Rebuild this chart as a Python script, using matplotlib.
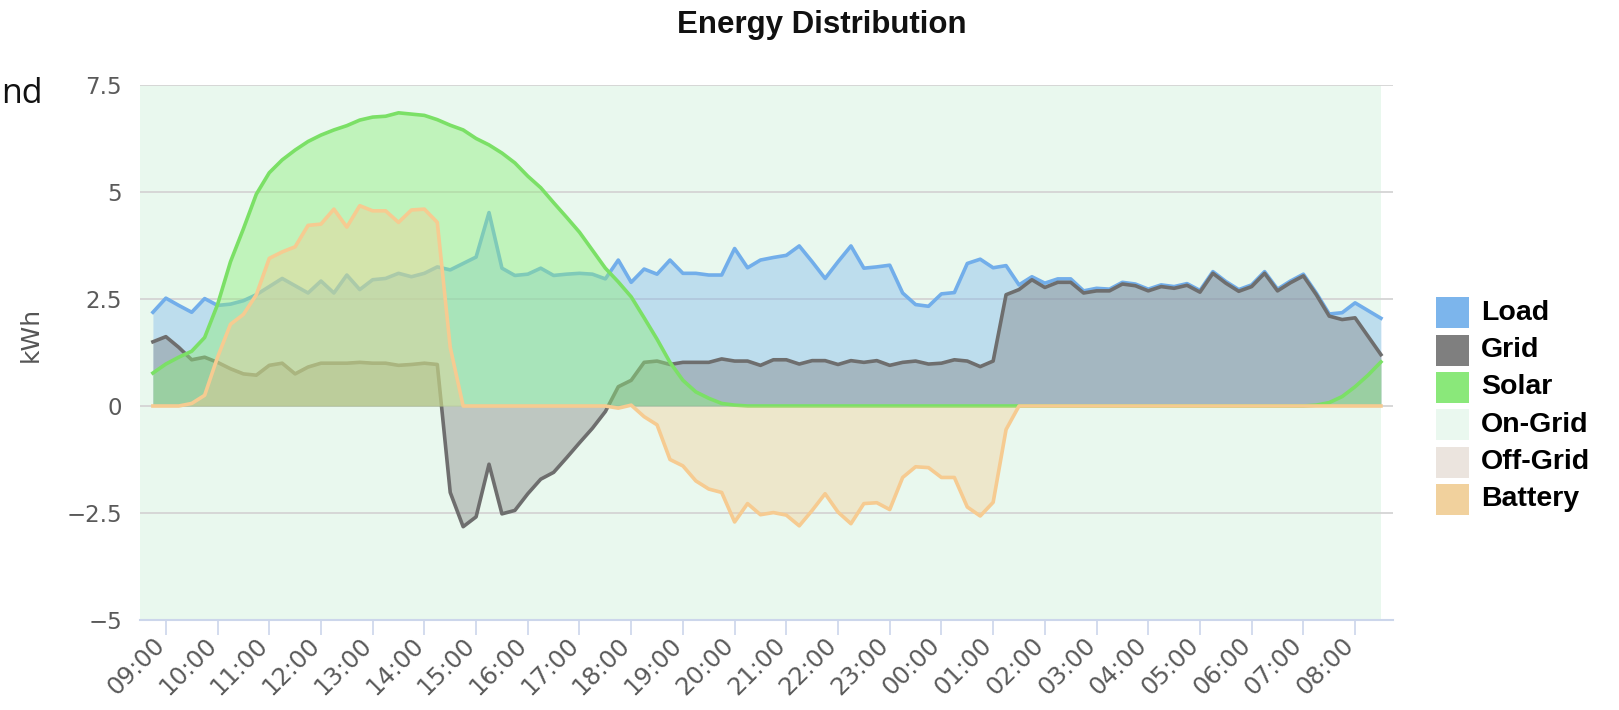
import matplotlib

matplotlib.use("Agg")

import matplotlib.dates as mdates
import matplotlib.pyplot as plt
import pandas as pd
from matplotlib.patches import Rectangle

# 15-minute readings, kWh, starting 08:45
load = [
    2.19, 2.52, 2.35, 2.19, 2.51, 2.35, 2.38, 2.46, 2.60, 2.79, 2.98, 2.81,
    2.64, 2.92, 2.64, 3.06, 2.72, 2.95, 2.98, 3.10, 3.02, 3.10, 3.25, 3.18,
    3.33, 3.48, 4.52, 3.22, 3.05, 3.08, 3.22, 3.05, 3.08, 3.10, 3.08, 2.97,
    3.41, 2.89, 3.20, 3.08, 3.41, 3.10, 3.10, 3.06, 3.06, 3.68, 3.23, 3.41,
    3.47, 3.52, 3.74, 3.37, 2.98, 3.37, 3.74, 3.22, 3.25, 3.29, 2.64, 2.37,
    2.33, 2.62, 2.65, 3.33, 3.43, 3.23, 3.28, 2.83, 3.02, 2.87, 2.97, 2.97,
    2.69, 2.75, 2.73, 2.89, 2.85, 2.73, 2.83, 2.79, 2.86, 2.70, 3.14, 2.91,
    2.72, 2.83, 3.14, 2.73, 2.92, 3.08, 2.64, 2.15, 2.18, 2.41, 2.23, 2.05,
]
grid = [
    1.50, 1.62, 1.37, 1.08, 1.14, 1.02, 0.87, 0.75, 0.72, 0.95, 1.00, 0.75,
    0.91, 1.00, 1.00, 1.00, 1.02, 1.00, 1.00, 0.95, 0.97, 1.00, 0.97, -2.02,
    -2.82, -2.59, -1.36, -2.52, -2.44, -2.05, -1.71, -1.55, -1.21, -0.86, -0.52, -0.13,
    0.45, 0.60, 1.02, 1.05, 0.97, 1.02, 1.02, 1.02, 1.10, 1.05, 1.05, 0.95,
    1.08, 1.08, 0.98, 1.06, 1.06, 0.97, 1.06, 1.02, 1.06, 0.95, 1.02, 1.05,
    0.98, 1.00, 1.08, 1.05, 0.92, 1.05, 2.60, 2.72, 2.95, 2.77, 2.89, 2.89,
    2.64, 2.69, 2.69, 2.85, 2.81, 2.69, 2.79, 2.75, 2.82, 2.66, 3.10, 2.87,
    2.68, 2.79, 3.10, 2.69, 2.88, 3.04, 2.60, 2.10, 2.02, 2.06, 1.63, 1.20,
]
solar = [
    0.77, 0.98, 1.14, 1.28, 1.60, 2.37, 3.37, 4.14, 4.95, 5.45, 5.75, 5.98,
    6.18, 6.33, 6.45, 6.55, 6.68, 6.75, 6.77, 6.85, 6.82, 6.79, 6.69, 6.56,
    6.45, 6.25, 6.10, 5.91, 5.68, 5.37, 5.10, 4.75, 4.41, 4.06, 3.64, 3.22,
    2.90, 2.55, 2.06, 1.56, 1.02, 0.60, 0.33, 0.18, 0.06, 0.02, 0.00, 0.00,
    0.00, 0.00, 0.00, 0.00, 0.00, 0.00, 0.00, 0.00, 0.00, 0.00, 0.00, 0.00,
    0.00, 0.00, 0.00, 0.00, 0.00, 0.00, 0.00, 0.00, 0.00, 0.00, 0.00, 0.00,
    0.00, 0.00, 0.00, 0.00, 0.00, 0.00, 0.00, 0.00, 0.00, 0.00, 0.00, 0.00,
    0.00, 0.00, 0.00, 0.00, 0.00, 0.00, 0.02, 0.08, 0.22, 0.45, 0.72, 1.03,
]
battery = [
    0.00, 0.00, 0.00, 0.06, 0.25, 1.14, 1.91, 2.14, 2.60, 3.45, 3.60, 3.72,
    4.22, 4.25, 4.60, 4.18, 4.68, 4.56, 4.56, 4.29, 4.58, 4.60, 4.29, 1.37,
    0.00, 0.00, 0.00, 0.00, 0.00, 0.00, 0.00, 0.00, 0.00, 0.00, 0.00, 0.00,
    -0.05, 0.02, -0.25, -0.44, -1.25, -1.40, -1.75, -1.94, -2.02, -2.71, -2.28, -2.54,
    -2.49, -2.55, -2.80, -2.44, -2.05, -2.48, -2.75, -2.28, -2.26, -2.42, -1.67, -1.42,
    -1.44, -1.67, -1.67, -2.36, -2.57, -2.25, -0.55, 0.00, 0.00, 0.00, 0.00, 0.00,
    0.00, 0.00, 0.00, 0.00, 0.00, 0.00, 0.00, 0.00, 0.00, 0.00, 0.00, 0.00,
    0.00, 0.00, 0.00, 0.00, 0.00, 0.00, 0.00, 0.00, 0.00, 0.00, 0.00, 0.00,
]

first_reading = "2023-06-01 08:45"
on_grid = [("2023-06-01 08:30", "2023-06-02 08:30")]
off_grid = []
x_range = ("2023-06-01 08:30", "2023-06-02 08:44")

legend_names = ["Load", "Grid", "Solar", "On-Grid", "Off-Grid", "Battery"]
legend_colors = ["#7cb5ec", "#7f7f7f", "#8ae87a", "#eaf8ef", "#ebe4de", "#f1d19d"]

y_ticks = [-5, -2.5, 0, 2.5, 5, 7.5]
y_tick_labels = ["\u22125", "\u22122.5", "0", "2.5", "5", "7.5"]

W, H = 1619, 710
times = pd.date_range(first_reading, periods=len(load), freq="15min")

fig = plt.figure(figsize=(W / 100, H / 100), dpi=100)
ax = fig.add_axes([140 / W, 1 - 620 / H, 1253 / W, 535 / H])

for a, b in on_grid:
    ax.axvspan(pd.Timestamp(a), pd.Timestamp(b), color="#e9f8ee", zorder=0, lw=0)
for a, b in off_grid:
    ax.axvspan(pd.Timestamp(a), pd.Timestamp(b), color="#ebe4de", zorder=0, lw=0)

series = [
    (load, "#72aeea", "#7cb5ec", 0.40),
    (grid, "#6e6e6e", "#7f7f7f", 0.40),
    (solar, "#7be066", "#90ed7d", 0.45),
    (battery, "#f6cb91", "#f4cc92", 0.38),
]
z = 2
for vals, line_c, fill_c, alpha in series:
    ax.fill_between(times, vals, 0, color=fill_c, alpha=alpha, lw=0, zorder=z)
    ax.plot(times, vals, color=line_c, lw=2.6, solid_joinstyle="round", zorder=z + 0.5)
    z += 1

ax.set_xlim(pd.Timestamp(x_range[0]), pd.Timestamp(x_range[1]))
ax.set_ylim(-5, 7.5)

ax.set_axisbelow(True)
ax.yaxis.grid(True, color="#d4d4d4", lw=1.3)
ax.set_yticks(y_ticks)
ax.set_yticklabels(y_tick_labels)
ax.tick_params(axis="y", length=0, pad=13, labelsize=16.5, labelcolor="#5a5a5a")

ax.xaxis.set_major_locator(mdates.HourLocator())
ax.xaxis.set_major_formatter(mdates.DateFormatter("%H:%M"))
ax.tick_params(axis="x", direction="out", length=11, width=1.2, color="#ccd6eb",
               pad=8, labelsize=17.5, labelcolor="#5a5a5a")
for lbl in ax.get_xticklabels():
    lbl.set_rotation(45)
    lbl.set_ha("right")
    lbl.set_va("baseline")
    lbl.set_rotation_mode("anchor")

for side in ["top", "right", "left"]:
    ax.spines[side].set_visible(False)
ax.spines["bottom"].set_color("#ccd6eb")
ax.spines["bottom"].set_linewidth(1.5)

ax.set_ylabel("kWh", fontsize=18, color="#555555")
ax.yaxis.set_label_coords(-0.078, 0.533)

fig.text(822 / W, 1 - 25 / H, "Energy Distribution", ha="center", va="center",
         fontsize=22.5, fontweight="bold", family="Liberation Sans", color="#111111")
fig.text(1 / W, 1 - 103 / H, "nd", ha="left", va="baseline", fontsize=24.5,
         family="Open Sans", color="#111111")

# legend on the right
sq_w, sq_h = 33, 31
for i, (name, col) in enumerate(zip(legend_names, legend_colors)):
    yc = 312.8 + 37.3 * i
    fig.add_artist(Rectangle((1436 / W, 1 - (yc + sq_h / 2) / H), sq_w / W, sq_h / H,
                             transform=fig.transFigure, facecolor=col, lw=0))
    fig.text(1481 / W, 1 - yc / H, name, ha="left", va="center", fontsize=20.5,
             fontweight="bold", family="Liberation Sans", color="#000000")

fig.savefig("out.png", dpi=100)
